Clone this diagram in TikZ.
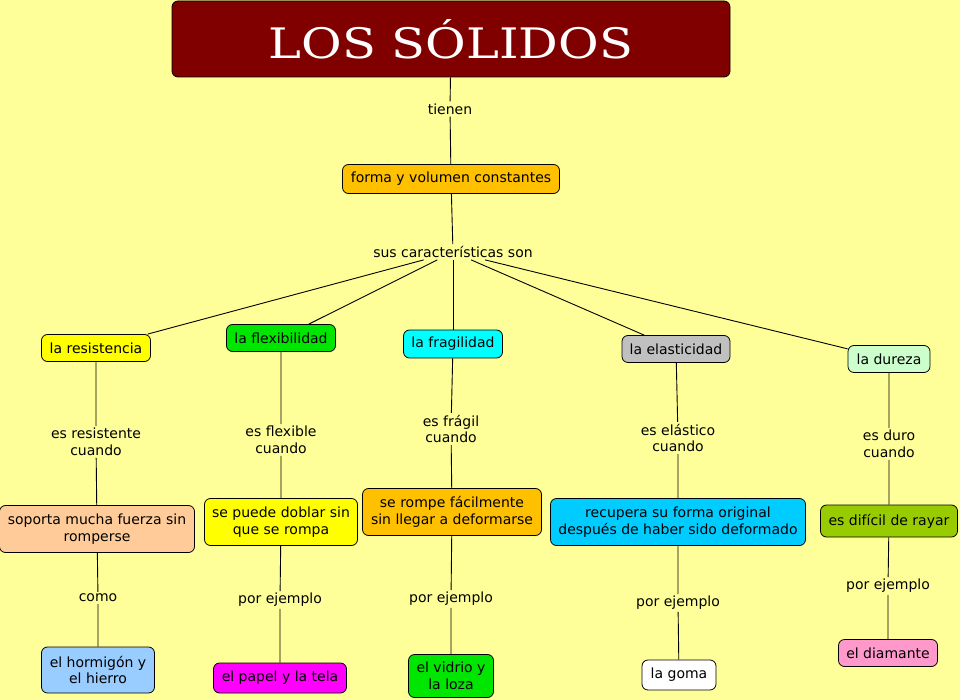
\documentclass[tikz,border=0pt]{standalone}
\usepackage{fontspec}
\setmainfont{DejaVu Sans}
\newfontfamily\titlefont{DejaVu Serif}
\usetikzlibrary{positioning}
\definecolor{bgyellow}{HTML}{FFFF99}
\definecolor{cTitle}{HTML}{800000}
\definecolor{cOrange}{HTML}{FFC000}
\definecolor{cYellow}{HTML}{FFFF00}
\definecolor{cGreen}{HTML}{00E600}
\definecolor{cCyan}{HTML}{00FFFF}
\definecolor{cGray}{HTML}{C0C0C0}
\definecolor{cMint}{HTML}{CCFFCC}
\definecolor{cPeach}{HTML}{FFCC99}
\definecolor{cSky}{HTML}{00CCFF}
\definecolor{cOlive}{HTML}{99CC00}
\definecolor{cBlue}{HTML}{99CCFF}
\definecolor{cMagenta}{HTML}{FF00FF}
\definecolor{cPink}{HTML}{FF99CC}
\tikzset{
    concept/.style = {draw, rectangle, rounded corners=6pt,
        align=center, inner sep=3pt, line width=0.8pt,
        font=\fontsize{14}{16.5}\selectfont},
    lab/.style = {align=center, inner sep=2pt,
        font=\fontsize{14}{16.5}\selectfont},
    line/.style = {draw, line width=0.9pt}
}

\begin{document}
\begin{tikzpicture}[x=1pt, y=-1pt]
\fill[bgyellow] (0,0) rectangle (960,700);
\useasboundingbox (0,0) rectangle (960,700);

% top
\node[concept, fill=cTitle, text=white, minimum width=558pt, minimum height=76pt,
    font=\titlefont\fontsize{42}{48}\selectfont] (title) at (451,39) {\scalebox{1.18}[1]{LOS SÓLIDOS}};
\node[lab] (tienen) at (450,109) {tienen};
\node[concept, fill=cOrange, minimum width=217pt, minimum height=29pt] (forma) at (451,179) {forma y volumen constantes};
\node[lab] (sus) at (453,252) {sus características son};

% properties
\node[concept, fill=cYellow, minimum width=109pt, minimum height=27pt] (resist) at (96,348) {la resistencia};
\node[concept, fill=cGreen, minimum width=109pt, minimum height=27pt] (flex) at (281,338) {la flexibilidad};
\node[concept, fill=cCyan, minimum width=99pt, minimum height=28pt] (frag) at (453,344) {la fragilidad};
\node[concept, fill=cGray, minimum width=108pt, minimum height=27pt] (elast) at (676,349) {la elasticidad};
\node[concept, fill=cMint, minimum width=82pt, minimum height=27pt] (dur) at (889,359) {la dureza};

% link labels
\node[lab] (lresist) at (96,442) {es resistente\\cuando};
\node[lab] (lflex) at (281,440) {es flexible\\cuando};
\node[lab] (lfrag) at (451,429) {es frágil\\cuando};
\node[lab] (lelast) at (678,438) {es elástico\\cuando};
\node[lab] (ldur) at (889,444) {es duro\\cuando};

% descriptions
\node[concept, fill=cPeach, minimum width=195pt, minimum height=47pt] (soporta) at (97,529) {soporta mucha fuerza sin\\romperse};
\node[concept, fill=cYellow, minimum width=153pt, minimum height=47pt] (doblar) at (281,522) {se puede doblar sin\\que se rompa};
\node[concept, fill=cOrange, minimum width=179pt, minimum height=47pt] (rompe) at (452,512) {se rompe fácilmente\\sin llegar a deformarse};
\node[concept, fill=cSky, minimum width=255pt, minimum height=47pt] (recupera) at (678,522) {recupera su forma original\\después de haber sido deformado};
\node[concept, fill=cOlive, minimum width=137pt, minimum height=32pt] (rayar) at (889,521) {es difícil de rayar};

% example labels
\node[lab] (lcomo) at (98,598) {como};
\node[lab] (lej1) at (280,600) {por ejemplo};
\node[lab] (lej2) at (451,599) {por ejemplo};
\node[lab] (lej3) at (678,603) {por ejemplo};
\node[lab] (lej4) at (888,586) {por ejemplo};

% examples
\node[concept, fill=cBlue, minimum width=113pt, minimum height=46pt] (horm) at (98,670) {el hormigón y\\el hierro};
\node[concept, fill=cMagenta, minimum width=133pt, minimum height=30pt] (papel) at (280,678) {el papel y la tela};
\node[concept, fill=cGreen, minimum width=85pt, minimum height=43pt] (vidrio) at (451,676) {el vidrio y\\la loza};
\node[concept, fill=white, minimum width=74pt, minimum height=30pt] (goma) at (679,675) {la goma};
\node[concept, fill=cPink, minimum width=99pt, minimum height=27pt] (diam) at (888,653) {el diamante};

% connectors
\draw[line] (title) -- (tienen) -- (forma) -- (sus);
\foreach \p in {resist,flex,frag,elast,dur}
    \draw[line] (sus) -- (\p);
\draw[line] (resist) -- (lresist) -- (soporta) -- (lcomo) -- (horm);
\draw[line] (flex) -- (lflex) -- (doblar) -- (lej1) -- (papel);
\draw[line] (frag) -- (lfrag) -- (rompe) -- (lej2) -- (vidrio);
\draw[line] (elast) -- (lelast) -- (recupera) -- (lej3) -- (goma);
\draw[line] (dur) -- (ldur) -- (rayar) -- (lej4) -- (diam);
\end{tikzpicture}
\end{document}
